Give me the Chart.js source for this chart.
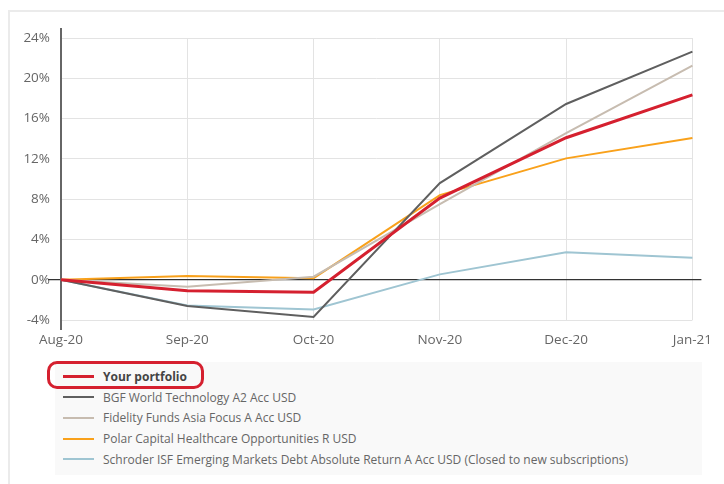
<!DOCTYPE html>
<html>
<head>
<meta charset="utf-8">
<script src="https://cdn.jsdelivr.net/npm/chart.js@4.4.1/dist/chart.umd.min.js"></script>
<style>
    html, body { margin: 0; padding: 0; background: #fff; }
    body { width: 724px; height: 484px; position: relative; overflow: hidden; font-family: 'Open Sans', sans-serif; }
    #frame { position: absolute; left: 8px; top: 10px; right: -10px; bottom: -10px; border-left: 2px solid #ebebeb; border-top: 2px solid #ebebeb; }
    #wrap { position: absolute; left: 0; top: 0; width: 724px; height: 352px; }
    #legend { position: absolute; left: 55px; top: 362px; width: 647px; height: 113px; background: #f9f9f9; padding-top: 4px; box-sizing: border-box; }
    .item { height: 20.75px; display: flex; align-items: center; padding-left: 8px; font-size: 12px; color: #666; white-space: nowrap; }
    .item .sw { width: 31px; height: 2px; margin-right: 9px; }
    .item.main { font-weight: bold; color: #444; }
    .item.main .sw { height: 3px; }
    #mark { position: absolute; left: 47px; top: 361px; width: 151px; height: 22px; border: 3px solid #d5202f; border-radius: 10px; }
</style>
</head>
<body>
<div id="frame"></div>
<div id="wrap"><canvas id="lineChart"></canvas></div>
<div id="legend"></div>
<div id="mark"></div>
<script>
'use strict'

var months = ['Aug-20', 'Sep-20', 'Oct-20', 'Nov-20', 'Dec-20', 'Jan-21']

var seriesNames = [
    'Your portfolio',
    'BGF World Technology A2 Acc USD',
    'Fidelity Funds Asia Focus A Acc USD',
    'Polar Capital Healthcare Opportunities R USD',
    'Schroder ISF Emerging Markets Debt Absolute Return A Acc USD (Closed to new subscriptions)'
]

// % return since Aug-20
var portfolio = [0, -1.1, -1.25, 8.1, 14.1, 18.35]
var bgfTech = [0, -2.6, -3.7, 9.6, 17.45, 22.65]
var fidelityAsia = [0, -0.7, 0.3, 7.5, 14.55, 21.25]
var polarHealth = [0, 0.37, 0.15, 8.4, 12.05, 14.07]
var schroderEmd = [0, -2.55, -2.95, 0.53, 2.72, 2.18]

var yTicks = [-4, 0, 4, 8, 12, 16, 20, 24]

var colors = ['#d5202f', '#5f5f5f', '#c7bcb0', '#f9a11b', '#9fc5d2']
var widths = [3, 2, 2, 2, 2]
var allSeries = [portfolio, bgfTech, fidelityAsia, polarHealth, schroderEmd]

var datasets = allSeries.map(function (d, i) {
    return {
        label: seriesNames[i],
        data: d,
        borderColor: colors[i],
        backgroundColor: colors[i],
        borderWidth: widths[i],
        pointRadius: 0,
        tension: 0,
        fill: false
    }
})

// y axis line (a bit longer than the plot) and the zero line
var axisLines = {
    id: 'axisLines',
    beforeDatasetsDraw: function (chart) {
        var ctx = chart.ctx
        var area = chart.chartArea
        var y0 = chart.scales.y.getPixelForValue(0)
        ctx.save()
        ctx.strokeStyle = '#333'
        ctx.lineWidth = 1.2
        ctx.beginPath()
        ctx.moveTo(area.left - 13, y0)
        ctx.lineTo(area.right + 9, y0)
        ctx.stroke()
        ctx.strokeStyle = '#666'
        ctx.lineWidth = 2
        ctx.beginPath()
        ctx.moveTo(area.left, area.top - 10)
        ctx.lineTo(area.left, area.bottom + 10)
        ctx.stroke()
        ctx.restore()
    }
}

var ctx = document.getElementById('lineChart').getContext('2d')
var lineChart = new Chart(ctx, {
    type: 'line',
    data: { labels: months, datasets: datasets },
    options: {
        responsive: true,
        maintainAspectRatio: false,
        animation: false,
        layout: { padding: { left: 0, right: 29, top: 38, bottom: 0 } },
        plugins: {
            legend: { display: false },
            tooltip: { enabled: false }
        },
        scales: {
            x: {
                offset: false,
                grid: { color: '#e3e3e3', lineWidth: 1, drawTicks: false },
                border: { display: false },
                ticks: {
                    color: '#666',
                    font: { family: 'Open Sans', size: 13.5 },
                    padding: 12,
                    maxRotation: 0,
                    autoSkip: false
                },
                afterFit: function (scale) { scale.height = 32 }
            },
            y: {
                min: -4,
                max: 24,
                afterBuildTicks: function (scale) {
                    scale.ticks = yTicks.map(function (v) { return { value: v } })
                },
                grid: { color: '#e3e3e3', lineWidth: 1, drawTicks: false },
                border: { display: false },
                ticks: {
                    color: '#666',
                    font: { family: 'Open Sans', size: 13.5 },
                    padding: 11,
                    callback: function (v) { return v + '%' }
                },
                afterFit: function (scale) { scale.width = 61 }
            }
        }
    },
    plugins: [axisLines]
})

// html legend
var legendBox = document.getElementById('legend')
lineChart.data.datasets.forEach(function (ds, i) {
    var row = document.createElement('div')
    row.className = 'item' + (i === 0 ? ' main' : '')
    var sw = document.createElement('span')
    sw.className = 'sw'
    sw.style.background = ds.borderColor
    var txt = document.createElement('span')
    txt.textContent = ds.label
    row.appendChild(sw)
    row.appendChild(txt)
    legendBox.appendChild(row)
})
</script>
</body>
</html>
